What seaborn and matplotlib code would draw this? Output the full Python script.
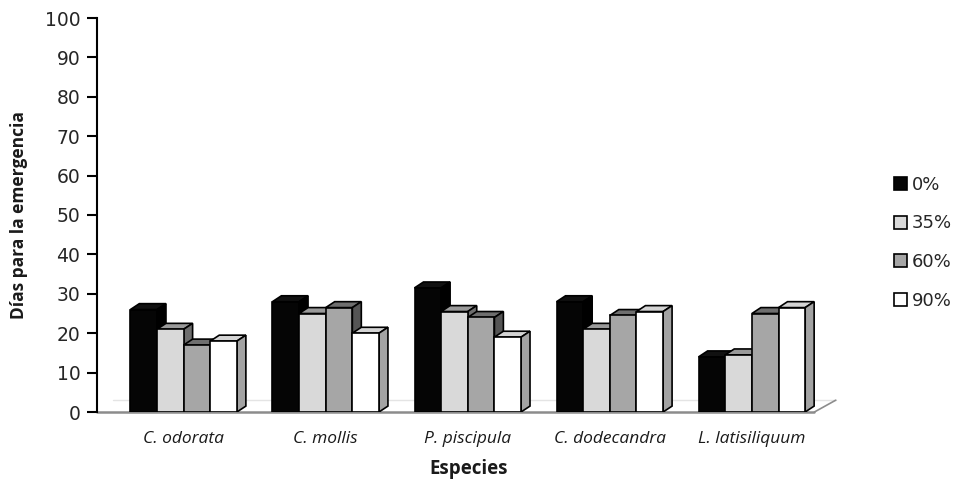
import matplotlib
matplotlib.use("Agg")
import matplotlib.pyplot as plt
from matplotlib.patches import Polygon, Patch
import pandas as pd
import seaborn as sns

# Emergence time (days) per species and shade level
especies = ["C. odorata", "C. mollis", "P. piscipula", "C. dodecandra", "L. latisiliquum"]
niveles = ["0%", "35%", "60%", "90%"]
dias_0 = [26, 28, 31.5, 28, 14]
dias_35 = [21, 25, 25.5, 21, 14.5]
dias_60 = [17, 26.5, 24, 24.5, 25]
dias_90 = [18, 20, 19, 25.5, 26.5]

colores_frente = ["#050505", "#d9d9d9", "#a6a6a6", "#ffffff"]
colores_tapa = ["#111111", "#9a9a9a", "#6e6e6e", "#d4d4d4"]
colores_lado = ["#000000", "#6e6e6e", "#555555", "#a3a3a3"]

rows = []
for nivel, vals in zip(niveles, [dias_0, dias_35, dias_60, dias_90]):
    for esp, v in zip(especies, vals):
        rows.append({"Especie": esp, "Sombra": nivel, "Dias": v})
df = pd.DataFrame(rows)

sns.set_theme(style="white")
plt.rcParams["font.family"] = ["DejaVu Sans"]

fig = plt.figure(figsize=(9.61, 4.8), dpi=100)
ax = fig.add_axes([97 / 961, (480 - 412) / 480, (840 - 97) / 961, (412 - 18) / 480])

sns.barplot(data=df, x="Especie", y="Dias", hue="Sombra", order=especies,
            hue_order=niveles, palette=colores_frente, width=0.75,
            edgecolor="black", linewidth=1.2, errorbar=None, legend=False,
            saturation=1, ax=ax)

ax.set_xlim(-0.61, 4.62)
ax.set_ylim(0, 100)

# 3D depth offsets in data units
dx, dy = 0.063, 1.5

bars = []
for k, cont in enumerate(ax.containers):
    for p in cont.patches:
        bars.append((p.get_x(), k, p))
bars.sort(key=lambda t: t[0])

for i, (_, k, p) in enumerate(bars):
    x0 = p.get_x()
    w = p.get_width()
    h = p.get_height()
    z = 3 + i * 0.01
    top = Polygon([(x0, h), (x0 + dx, h + dy), (x0 + w + dx, h + dy), (x0 + w, h)],
                  closed=True, facecolor=colores_tapa[k], edgecolor="black",
                  linewidth=1.2, zorder=z)
    side = Polygon([(x0 + w, 0), (x0 + w, h), (x0 + w + dx, h + dy), (x0 + w + dx, dy)],
                   closed=True, facecolor=colores_lado[k], edgecolor="black",
                   linewidth=1.2, zorder=z)
    ax.add_patch(top)
    ax.add_patch(side)
    p.set_zorder(z + 0.005)

# floor of the 3D plot
ax.plot([-0.61, 4.44], [0, 0], color="#8c8c8c", lw=1.8, zorder=2, clip_on=False)
ax.plot([4.44, 4.59], [0, 3], color="#8c8c8c", lw=1.2, zorder=2, clip_on=False)
ax.plot([-0.5, 4.59], [3, 3], color="#e4e4e4", lw=1.0, zorder=1, clip_on=False)

for s in ["top", "right", "bottom"]:
    ax.spines[s].set_visible(False)
ax.spines["left"].set_color("black")
ax.spines["left"].set_linewidth(1.5)

ax.set_yticks(range(0, 101, 10))
ax.tick_params(axis="y", which="major", direction="out", length=7, width=1.5,
               color="black", labelsize=13.5, pad=5, left=True)
ax.tick_params(axis="x", length=0, pad=14)
for lab in ax.get_xticklabels():
    lab.set_fontfamily("Open Sans")
    lab.set_fontstyle("italic")
    lab.set_fontsize(12.5)
    lab.set_color("#1a1a1a")

ax.set_xlabel("Especies", fontfamily="Open Sans", fontweight="bold", fontsize=13.5,
              labelpad=8, color="#1a1a1a")
ax.set_ylabel("Días para la emergencia", fontfamily="Open Sans", fontweight="bold",
              fontsize=12.5, labelpad=12, color="#1a1a1a")
ax.grid(False)

handles = [Patch(facecolor=c, edgecolor="black", linewidth=1.2) for c in colores_frente]
fig.legend(handles, niveles, loc="upper left", bbox_to_anchor=(0.913, 0.668),
           frameon=False, fontsize=13, handlelength=0.72, handleheight=0.72,
           handletextpad=0.3, labelspacing=1.15)

fig.savefig("out.png", dpi=100)
